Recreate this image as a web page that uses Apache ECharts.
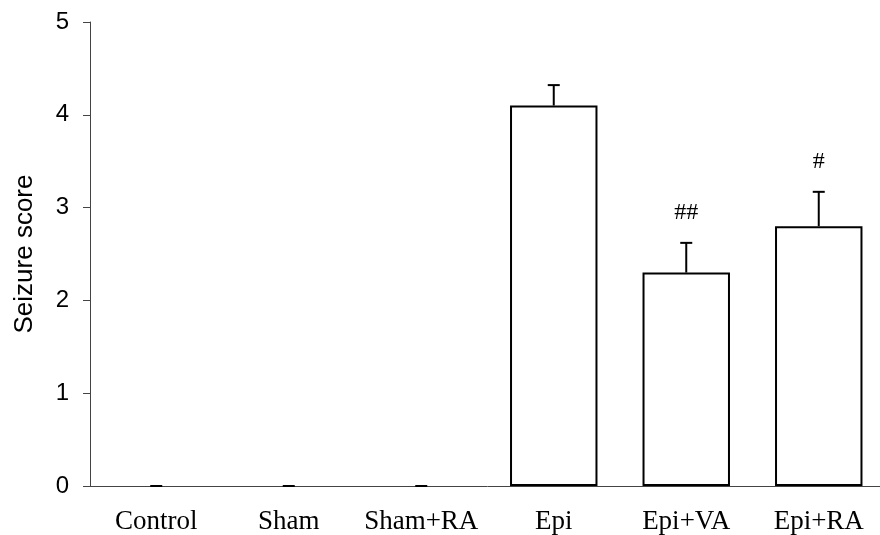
<!DOCTYPE html>
<html>
<head>
<meta charset="utf-8">
<script src="https://cdn.jsdelivr.net/npm/echarts@6/dist/echarts.min.js"></script>
<style>html,body{margin:0;padding:0;background:#fff;overflow:hidden;}#c{width:890px;height:535px;}</style>
</head>
<body>
<div id="c"></div>
<script>
var categories = ['Control', 'Sham', 'Sham+RA', 'Epi', 'Epi+VA', 'Epi+RA'];
var means = [0, 0, 0, 4.1, 2.3, 2.8];
var errors = [0, 0, 0, 0.22, 0.32, 0.37];
var sigLabels = ['', '', '', '', '##', '#'];
var yTicks = [0, 1, 2, 3, 4, 5];

var chart = echarts.init(document.getElementById('c'), null, {renderer: 'canvas'});

var barData = means.map(function (v) {
  return v === 0 ? {value: v, itemStyle: {borderWidth: 0, color: 'rgba(0,0,0,0)'}} : {value: v};
});
var errData = means.map(function (v, i) { return [i, v, errors[i], sigLabels[i]]; });

chart.setOption({
  animation: false,
  backgroundColor: '#ffffff',
  grid: {left: 90, top: 22, right: 5, bottom: 47, containLabel: false},
  xAxis: {
    type: 'category',
    data: categories,
    axisLine: {lineStyle: {color: '#444', width: 1}},
    axisTick: {show: false},
    axisLabel: {interval: 0, color: '#000', fontFamily: 'Liberation Serif', fontSize: 27, margin: 22}
  },
  yAxis: {
    type: 'value',
    min: yTicks[0],
    max: yTicks[yTicks.length - 1],
    interval: 1,
    name: 'Seizure score',
    nameLocation: 'middle',
    nameGap: 52,
    nameTextStyle: {color: '#000', fontFamily: 'Liberation Sans', fontSize: 26},
    axisLine: {show: true, lineStyle: {color: '#444', width: 1}},
    axisTick: {show: true, length: 7, lineStyle: {color: '#444', width: 1}},
    axisLabel: {color: '#000', fontFamily: 'Liberation Sans', fontSize: 24, margin: 21},
    splitLine: {show: false}
  },
  series: [
    {
      type: 'bar',
      data: barData,
      barWidth: '66%',
      itemStyle: {color: '#fff', borderColor: '#000', borderWidth: 2},
      z: 2
    },
    {
      type: 'custom',
      data: errData,
      z: 3,
      renderItem: function (params, api) {
        var i = api.value(0), m = api.value(1), e = api.value(2);
        var lbl = sigLabels[i];
        var base = api.coord([i, m]);
        var top = api.coord([i, m + e]);
        var half = 6;
        var children = [];
        if (e > 0) {
          children.push({type: 'line', shape: {x1: top[0], y1: base[1], x2: top[0], y2: top[1]},
            style: {stroke: '#000', lineWidth: 2}});
        }
        children.push({type: 'line', shape: {x1: top[0] - half, y1: top[1], x2: top[0] + half, y2: top[1]},
          style: {stroke: '#000', lineWidth: 2}});
        if (lbl) {
          children.push({type: 'text', x: top[0], y: top[1] - 30,
            style: {text: lbl, fill: '#000', font: '24px "Liberation Serif"', align: 'center', verticalAlign: 'middle'}});
        }
        return {type: 'group', children: children};
      }
    }
  ]
});
</script>
</body>
</html>
